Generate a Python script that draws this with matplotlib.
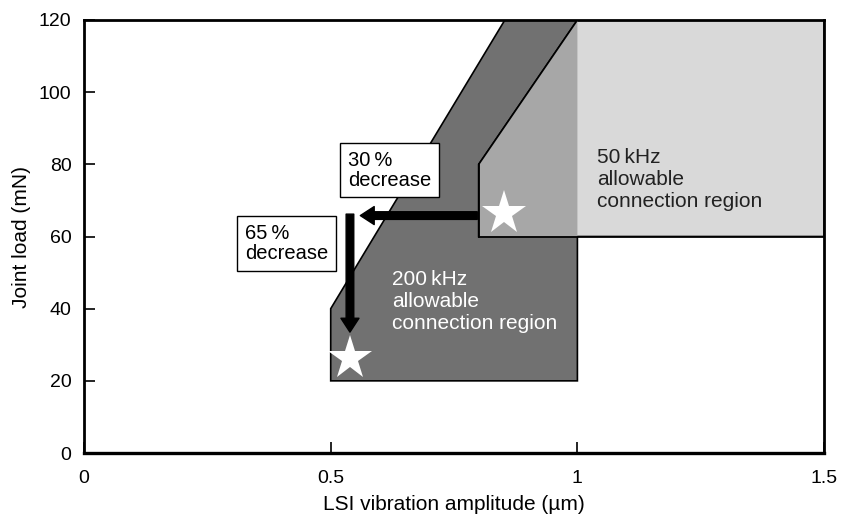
import numpy as np
import matplotlib.pyplot as plt
from matplotlib.patches import Polygon

plt.rcParams['font.family'] = ['Liberation Sans', 'DejaVu Sans']

# region outlines (amplitude um, load mN)
r200_x = [0.5, 0.5, 0.853, 1.0, 1.0]
r200_y = [20, 40, 120, 120, 20]
r50_x = [0.8, 0.8, 1.0, 1.5, 1.5]
r50_y = [60, 80, 120, 120, 60]
overlap_x = [0.8, 0.8, 1.0, 1.0]
overlap_y = [60, 80, 120, 60]

stars_x = [0.852, 0.539]
stars_y = [66.5, 26.3]

xticks = [0, 0.5, 1, 1.5]
xticklabels = ['0', '0.5', '1', '1.5']
yticks = [0, 20, 40, 60, 80, 100, 120]

fig = plt.figure(figsize=(8.41, 5.23), dpi=100)
ax = fig.add_axes([0.0999, 0.1338, 0.88, 0.828])

ax.add_patch(Polygon(np.column_stack([r200_x, r200_y]), closed=True,
                     facecolor='#717171', edgecolor='black', lw=1.2, zorder=1))
ax.add_patch(Polygon(np.column_stack([r50_x, r50_y]), closed=True,
                     facecolor='#d9d9d9', edgecolor='black', lw=1.2, zorder=2))
ax.add_patch(Polygon(np.column_stack([overlap_x, overlap_y]), closed=True,
                     facecolor='#a7a7a7', edgecolor='none', zorder=3))
# redraw the outline of 50kHz on top
ax.plot(r50_x[:3] + [1.5], r50_y[:3] + [120], color='black', lw=1.2, zorder=4)
ax.plot([0.8, 1.5], [60, 60], color='black', lw=1.2, zorder=4)
ax.plot([0.8, 0.8], [60, 80], color='black', lw=1.2, zorder=4)

# arrows
astyle = 'simple,head_width=1.3,head_length=1.0,tail_width=0.55'
ax.annotate('', xy=(0.560, 65.8), xytext=(0.797, 65.8),
            arrowprops=dict(arrowstyle=astyle, fc='black', ec='black',
                            shrinkA=0, shrinkB=0), zorder=5)
ax.annotate('', xy=(0.539, 33.5), xytext=(0.539, 66.2),
            arrowprops=dict(arrowstyle=astyle, fc='black', ec='black',
                            shrinkA=0, shrinkB=0), zorder=5)

ax.plot(stars_x, stars_y, linestyle='none', marker='*', markersize=33,
        color='white', markeredgewidth=0, zorder=6)

box = dict(boxstyle='square,pad=0.38', facecolor='white', edgecolor='black', lw=1)
ax.text(0.535, 78.4, '30\u2009%\ndecrease', fontsize=14.5, ha='left', va='center',
        linespacing=1.08, bbox=box, zorder=7)
ax.text(0.326, 58.1, '65\u2009%\ndecrease', fontsize=14.5, ha='left', va='center',
        linespacing=1.08, bbox=box, zorder=7)

ax.text(0.624, 41.9, '200\u2009kHz\nallowable\nconnection region', fontsize=15,
        color='white', ha='left', va='center', linespacing=1.2, zorder=7)
ax.text(1.039, 75.9, '50\u2009kHz\nallowable\nconnection region', fontsize=15,
        color='#222222', ha='left', va='center', linespacing=1.2, zorder=7)

ax.set_xlim(0, 1.5)
ax.set_ylim(0, 120)
ax.set_xticks(xticks)
ax.set_xticklabels(xticklabels)
ax.set_yticks(yticks)
ax.tick_params(direction='in', length=8, labelsize=14, width=1.2)
ax.tick_params(axis='x', pad=12)
ax.tick_params(axis='y', pad=9)
for s in ax.spines.values():
    s.set_linewidth(2.0)
ax.spines['bottom'].set_linewidth(2.4)
ax.set_xlabel('LSI vibration amplitude (\u00b5m)', fontsize=15, labelpad=6)
ax.set_ylabel('Joint load (mN)', fontsize=15, labelpad=6)

plt.savefig('out.png', dpi=100)
